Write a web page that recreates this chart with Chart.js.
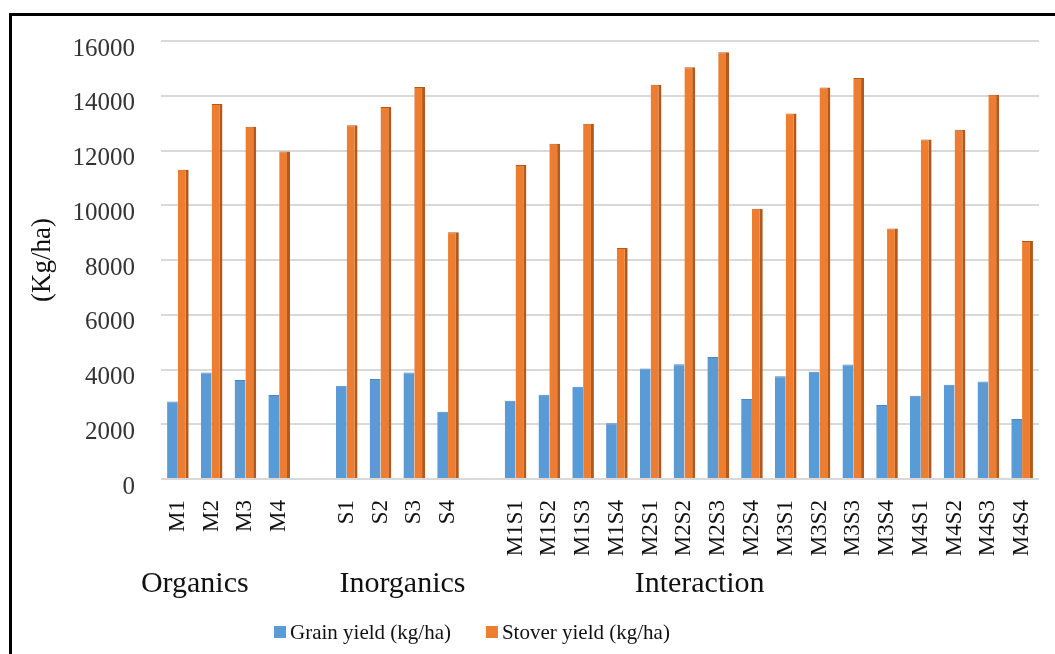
<!DOCTYPE html>
<html>
<head>
<meta charset="utf-8">
<script src="https://cdn.jsdelivr.net/npm/chart.js@4.4.1/dist/chart.umd.min.js"></script>
<style>
    html, body { margin: 0; padding: 0; background: #fff; }
    #wrap { position: relative; width: 1055px; height: 654px; overflow: hidden; }
    #wrap canvas { position: absolute; left: 0; top: 0; }
    #frame {
        position: absolute; left: 9px; top: 13px; width: 1100px; height: 700px;
        border-left: 3px solid #000; border-top: 3px solid #000; pointer-events: none;
    }
</style>
</head>
<body>
<div id="wrap">
    <canvas id="yieldChart" width="1055" height="654"></canvas>
    <div id="frame"></div>
</div>
<script>
// Treatments
const organics = ["M1", "M2", "M3", "M4"];
const inorganics = ["S1", "S2", "S3", "S4"];
const interaction = ["M1S1", "M1S2", "M1S3", "M1S4", "M2S1", "M2S2", "M2S3", "M2S4",
                     "M3S1", "M3S2", "M3S3", "M3S4", "M4S1", "M4S2", "M4S3", "M4S4"];
const groupNames = ["Organics", "Inorganics", "Interaction"];

// Grain yield (kg/ha)
const grainOrganics = [2830, 3890, 3620, 3070];
const grainInorganics = [3410, 3650, 3890, 2460];
const grainInteraction = [2860, 3080, 3370, 2040, 4040, 4190, 4460, 2920,
                          3750, 3920, 4180, 2700, 3040, 3440, 3560, 2190];

// Stover yield (kg/ha)
const stoverOrganics = [11300, 13700, 12870, 11960];
const stoverInorganics = [12920, 13590, 14320, 9010];
const stoverInteraction = [11470, 12250, 12980, 8440, 14400, 15040, 15590, 9870,
                           13350, 14300, 14650, 9150, 12400, 12760, 14040, 8690];

const yMax = 16000;
const yStep = 2000;

// one empty slot between the three groups
function withGaps(a, b, c, gap) {
    return [...a, gap, ...b, gap, ...c];
}

const labels = withGaps(organics, inorganics, interaction, "");
const grainData = withGaps(grainOrganics, grainInorganics, grainInteraction, null);
const stoverData = withGaps(stoverOrganics, stoverInorganics, stoverInteraction, null);

const serif = "'Liberation Serif', 'Times New Roman', serif";

// group captions sit at these (fractional) category positions
const groupAt = [0.5, 6.65, 15.45];

const captions = {
    id: "captions",
    afterDraw(chart) {
        const ctx = chart.ctx;
        const x = chart.scales.x;
        ctx.save();
        ctx.fillStyle = "#111";
        ctx.textBaseline = "alphabetic";

        ctx.font = "30px " + serif;
        ctx.textAlign = "center";
        groupNames.forEach((name, i) => {
            ctx.fillText(name, x.getPixelForValue(groupAt[i]), 592);
        });

        // legend
        ctx.font = "21px " + serif;
        ctx.textAlign = "left";
        let lx = 274;
        const ly = 639;
        chart.data.datasets.forEach(ds => {
            ctx.fillStyle = ds.backgroundColor;
            ctx.fillRect(lx, ly - 13, 12, 12);
            ctx.fillStyle = "#111";
            ctx.fillText(ds.label, lx + 16, ly);
            lx += 16 + ctx.measureText(ds.label).width + 35;
        });
        ctx.restore();
    }
};

const chart = new Chart(document.getElementById("yieldChart"), {
    type: "bar",
    data: {
        labels: labels,
        datasets: [
            {
                label: "Grain yield (kg/ha)",
                data: grainData,
                backgroundColor: "#5b9bd5",
                borderColor: "#4a86c0",
                borderWidth: { top: 1, right: 0, bottom: 0, left: 0 }
            },
            {
                label: "Stover yield (kg/ha)",
                data: stoverData,
                backgroundColor: "#ed7d31",
                borderColor: "#b5591b",
                borderWidth: { top: 1, right: 3, bottom: 0, left: 0 }
            }
        ]
    },
    options: {
        responsive: false,
        animation: false,
        events: [],
        datasets: {
            bar: { categoryPercentage: 0.64, barPercentage: 1.0 }
        },
        layout: { padding: { top: 38, right: 16, bottom: 0, left: 0 } },
        plugins: {
            legend: { display: false },
            tooltip: { enabled: false }
        },
        scales: {
            x: {
                offset: true,
                grid: { display: false, drawTicks: false },
                border: { display: false },
                ticks: {
                    autoSkip: false,
                    minRotation: 90,
                    maxRotation: 90,
                    padding: 21,
                    color: "#111",
                    font: { family: serif, size: 23 }
                },
                afterFit(scale) {
                    scale.height = 175;
                    scale.paddingLeft = 0;
                    scale.paddingRight = 0;
                }
            },
            y: {
                min: 0,
                max: yMax,
                ticks: {
                    stepSize: yStep,
                    padding: 26,
                    labelOffset: 8,
                    color: "#333",
                    font: { family: serif, size: 25 },
                    callback: v => String(v)
                },
                grid: { color: "#d9d9d9", lineWidth: 2, drawTicks: false },
                border: { display: false },
                title: {
                    display: true,
                    text: "(Kg/ha)",
                    color: "#111",
                    font: { family: serif, size: 27 },
                    padding: { top: 27, bottom: 0 }
                },
                afterFit(scale) { scale.width = 161; }
            }
        }
    },
    plugins: [captions]
});
</script>
</body>
</html>
